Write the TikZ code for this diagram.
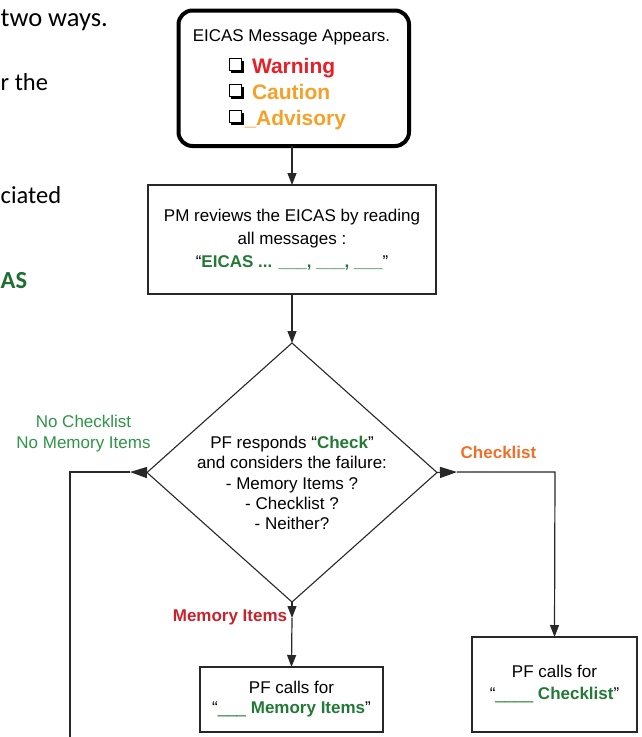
\documentclass[tikz,border=0pt]{standalone}
\usepackage{fontspec}
\setmainfont{Liberation Sans}
\newfontfamily\calib{Carlito}
\usetikzlibrary{shapes.geometric,arrows.meta,shadows}
\definecolor{dgreen}{RGB}{34,122,54}
\definecolor{lgreen}{RGB}{46,148,70}
\definecolor{asgreen}{RGB}{30,110,50}
\definecolor{warnred}{RGB}{232,30,40}
\definecolor{cautor}{RGB}{247,160,40}
\definecolor{chkor}{RGB}{242,110,40}
\definecolor{memred}{RGB}{200,35,45}
\definecolor{linec}{RGB}{40,40,40}
\begin{document}
\begin{tikzpicture}[x=1pt,y=-1pt,
  base/.style={font=\fontsize{17}{20.25}\selectfont, inner sep=0pt, outer sep=0pt},
  boxn/.style={draw=linec, line width=1.2pt, rectangle, inner sep=0pt, outer sep=0pt, align=center},
  chk/.style={draw=black, fill=white, minimum size=12.5pt, inner sep=0pt, line width=1.1pt,
    drop shadow={shadow xshift=2pt, shadow yshift=-2.5pt, fill=black, opacity=1}},
  conn/.style={draw=linec, line width=1.2pt},
  arrv/.style={conn, -{Triangle[length=12pt,width=9pt]}},
  arrs/.style={conn, -{Triangle[length=17pt,width=11pt]}},
  frag/.style={font=\calib\fontsize{24.5}{30}\selectfont, inner sep=0pt, anchor=base west}
]
\useasboundingbox (0,0) rectangle (641,737);

% left text fragments
\node[frag, font=\calib\fontsize{26.5}{30}\selectfont] (f1) at (0.5,26) {two ways.};
\node[frag] (f2) at (0.5,90) {r the};
\node[frag] (f3) at (0.5,203) {ciated};
\node[frag, text=asgreen, font=\calib\bfseries\fontsize{24.5}{30}\selectfont] (f4) at (0.5,288) {AS};

% top rounded box
\node[draw=black, line width=4pt, rounded corners=14pt, minimum width=230.5pt, minimum height=135.5pt, inner sep=0pt, outer sep=0pt] (top) at (293.75,78.25) {};
\node[base, anchor=base] (title) at (291.5,41.5) {EICAS Message Appears.};
\node[chk] (c1) at (235.5,64.5) {};
\node[chk] (c2) at (235.5,90.5) {};
\node[chk] (c3) at (235.5,116.5) {};
\node[base, anchor=base west, font=\bfseries\fontsize{21}{24}\selectfont, text=warnred] (w) at (252,73) {Warning};
\node[base, anchor=base west, font=\bfseries\fontsize{21}{24}\selectfont, text=cautor] (c) at (252,99) {Caution};
\node[base, anchor=base west, font=\bfseries\fontsize{21}{24}\selectfont, text=cautor] (a) at (244.5,125) {\_Advisory};

% PM box
\node[boxn, minimum width=288pt, minimum height=109pt, font=\fontsize{17}{23}\selectfont] (pm) at (292,239.5)
  {PM reviews the EICAS by reading\\all messages :\\“{\color{dgreen}\bfseries EICAS ... \_\_\_, \_\_\_, \_\_\_}”};

% diamond
\node[diamond, draw=linec, line width=1.1pt, minimum width=290pt, minimum height=259pt, inner sep=0pt, outer sep=0pt] (dia) at (292,472.5) {};
\node[base, align=center] (dtext) at (292,483)
  {PF responds “{\color{dgreen}\bfseries Check}”\\and considers the failure:\\- Memory Items ?\\- Checklist ?\\- Neither?};

% result boxes
\node[boxn, minimum width=183pt, minimum height=65pt, font=\fontsize{17}{20}\selectfont] (mem) at (291.5,699.5)
  {PF calls for\\“{\color{dgreen}\_\_\_ \bfseries Memory Items}”};
\node[boxn, minimum width=165pt, minimum height=95pt, font=\fontsize{17}{22}\selectfont] (chkl) at (554.5,684.5)
  {PF calls for\\“{\color{dgreen}\_\_\_\_ \bfseries Checklist}”};

% labels
\node[base, align=center, text=lgreen] (lno) at (83.5,433.5) {No Checklist\\No Memory Items};
\node[base, font=\bfseries\fontsize{17}{20}\selectfont, text=chkor] (lchk) at (498.5,452) {Checklist};
\node[base, font=\bfseries\fontsize{17}{20}\selectfont, text=memred] (lmem) at (230,617) {Memory Items};

% coordinates
\coordinate (lt) at (130,472);
\coordinate (lc) at (70,472);
\coordinate (lb) at (70,740);
\coordinate (rt) at (457,472);
\coordinate (rc) at (555,472);
\coordinate (bt) at (292,618);

% connectors
\draw[arrv] (top.south -| pm.north) -- (pm.north);
\draw[arrv] (pm.south) -- (dia.north);
\draw[arrs] (dia.west) -- (lt);
\draw[conn] (lt) -- (lc) -- (lb);
\draw[arrs] (dia.east) -- (rt);
\draw[arrv] (rt) -- (rc) -- (chkl.north);
\draw[arrv] (dia.south) -- (bt);
\draw[arrv] (bt) -- (mem.north);
\end{tikzpicture}
\end{document}
